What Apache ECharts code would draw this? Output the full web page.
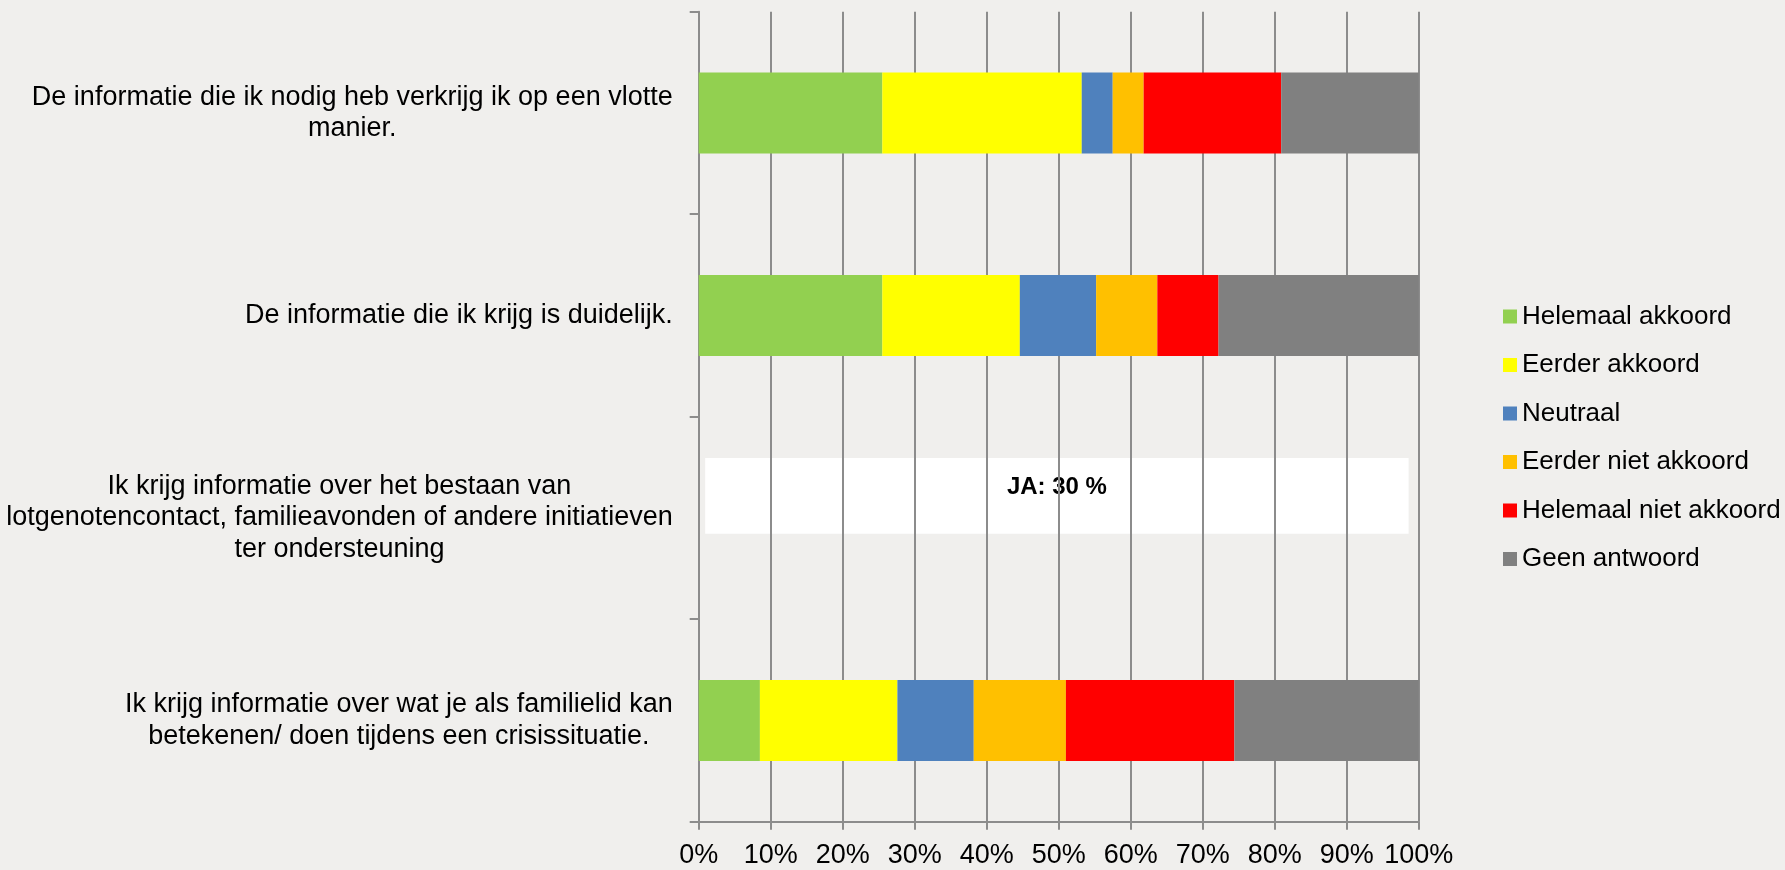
<!DOCTYPE html>
<html>
<head>
<meta charset="utf-8">
<script src="https://cdn.jsdelivr.net/npm/echarts@6/dist/echarts.min.js"></script>
<style>
  html, body { margin: 0; padding: 0; background: #f0efed; }
  #main { width: 1785px; height: 870px; }
</style>
</head>
<body>
<div id="main"></div>
<script>
// vragen (van boven naar onder)
const categories = [
  'De informatie die ik nodig heb verkrijg ik op een vlotte\nmanier.',
  'De informatie die ik krijg is duidelijk.',
  'Ik krijg informatie over het bestaan van\nlotgenotencontact, familieavonden of andere initiatieven\nter ondersteuning',
  'Ik krijg informatie over wat je als familielid kan\nbetekenen/ doen tijdens een crisissituatie.'
];
const seriesNames = ['Helemaal akkoord', 'Eerder akkoord', 'Neutraal', 'Eerder niet akkoord', 'Helemaal niet akkoord', 'Geen antwoord'];
const colors = ['#92d050', '#ffff00', '#4f81bd', '#ffc000', '#ff0000', '#808080'];

// percentages per vraag (derde vraag heeft geen verdeling, enkel JA-score)
const helemaalAkkoord     = [25.5, 25.5, null, 8.5];
const eerderAkkoord       = [27.7, 19.1, null, 19.1];
const neutraal            = [4.3, 10.6, null, 10.6];
const eerderNietAkkoord   = [4.3, 8.5, null, 12.8];
const helemaalNietAkkoord = [19.1, 8.5, null, 23.4];
const geenAntwoord        = [19.1, 27.8, null, 25.6];
const seriesValues = [helemaalAkkoord, eerderAkkoord, neutraal, eerderNietAkkoord, helemaalNietAkkoord, geenAntwoord];

const xMin = 0, xMax = 100, xStep = 10;
const jaValue = 30;        // JA-score voor de derde vraag
const jaBoxRange = [0.9, 98.6]; // breedte van het witte kader op de x-as (in %)

const font = 'Liberation Sans, Arial, sans-serif';
const gridColor = '#8c8c8c';

const chart = echarts.init(document.getElementById('main'));

const series = seriesNames.map(function (name, i) {
  return {
    name: name,
    type: 'bar',
    stack: 'totaal',
    barWidth: '40%',
    itemStyle: { color: colors[i] },
    data: seriesValues[i]
  };
});

const option = {
  backgroundColor: '#f0efed',
  animation: false,
  textStyle: { fontFamily: font },
  grid: { left: 698.7, right: 366.3, top: 11.7, bottom: 48.3 },
  legend: {
    orient: 'vertical',
    left: 1498,
    top: 298.5,
    icon: 'rect',
    itemWidth: 14,
    itemHeight: 14,
    itemGap: 22.5,
    selectedMode: false,
    textStyle: { fontFamily: font, fontSize: 26, lineHeight: 26, color: '#000' },
    data: seriesNames
  },
  xAxis: {
    type: 'value',
    min: xMin,
    max: xMax,
    interval: xStep,
    axisLine: { show: true, lineStyle: { color: gridColor, width: 2 } },
    axisTick: { show: true, length: 8, lineStyle: { color: gridColor, width: 2 } },
    splitLine: { show: true, lineStyle: { color: gridColor, width: 2 } },
    axisLabel: {
      formatter: '{value}%',
      fontFamily: font,
      fontSize: 27,
      color: '#000',
      margin: 20
    }
  },
  yAxis: {
    type: 'category',
    inverse: true,
    data: categories,
    axisLine: { show: true, lineStyle: { color: gridColor, width: 2 } },
    axisTick: { show: true, length: 9, alignWithLabel: false, lineStyle: { color: gridColor, width: 2 } },
    axisLabel: {
      interval: 0,
      margin: 26,
      align: 'right',
      fontFamily: font,
      fontSize: 27,
      lineHeight: 31.5,
      color: '#000',
      formatter: function (v) {
        return v.split('\n').map(function (l) { return '{c|' + l + '}'; }).join('\n');
      },
      rich: {
        c: { align: 'center', fontFamily: font, fontSize: 27, lineHeight: 31.5, color: '#000' }
      }
    }
  },
  series: series
};

chart.setOption(option);

// wit kader met JA-score op de derde vraag
const x0 = chart.convertToPixel({ xAxisIndex: 0 }, jaBoxRange[0]);
const x1 = chart.convertToPixel({ xAxisIndex: 0 }, jaBoxRange[1]);
const yc = chart.convertToPixel({ yAxisIndex: 0 }, categories[2]);
chart.setOption({
  graphic: [
    {
      type: 'rect',
      z: -2,
      shape: { x: x0, y: yc - 60, width: x1 - x0, height: 75.7 },
      style: { fill: '#ffffff' },
      silent: true
    },
    {
      type: 'text',
      z: -1,
      x: (x0 + x1) / 2,
      y: yc - 31,
      style: {
        text: 'JA: ' + jaValue + ' %',
        fontFamily: font,
        fontSize: 24,
        fontWeight: 'bold',
        fill: '#000',
        align: 'center',
        verticalAlign: 'middle'
      },
      silent: true
    }
  ]
});
</script>
</body>
</html>
